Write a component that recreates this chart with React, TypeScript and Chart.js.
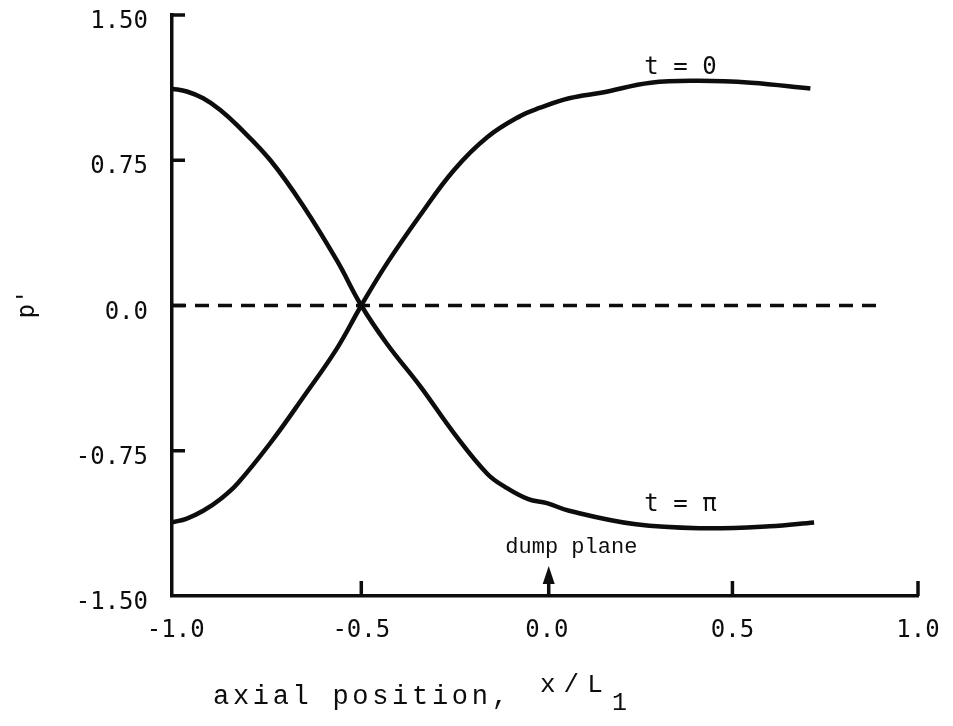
import { useEffect, useRef } from "react";
import { Chart, registerables } from "chart.js";

Chart.register(...registerables);

// Axis ticks
const xTickValues = [-1.0, -0.5, 0.0, 0.5, 1.0];
const xTickLabels = ["-1.0", "-0.5", "0.0", "0.5", "1.0"];
const yTickValues = [1.5, 0.75, 0.0, -0.75, -1.5];
const yTickLabels = ["1.50", "0.75", "0.0", "-0.75", "-1.50"];
// inward tick marks drawn on the axes
const xTickMarks = [-0.5, 0.5, 1.0];
const yTickMarks = [1.5, 0.75, 0.0, -0.75];

// Pressure perturbation p' along the duct, t = 0
const t0X = [-1.01, -0.97, -0.926, -0.88, -0.834, -0.745, -0.655, -0.565, -0.5, -0.43, -0.34, -0.25, -0.16, -0.07, -0.02, 0.06, 0.15, 0.28, 0.41, 0.55, 0.71];
const t0Y = [-1.12, -1.1, -1.06, -1.0, -0.92, -0.71, -0.47, -0.22, 0.0, 0.22, 0.47, 0.7, 0.87, 0.98, 1.02, 1.07, 1.1, 1.15, 1.16, 1.15, 1.12];

// Pressure perturbation p' along the duct, t = π
const tPiX = [-1.01, -0.97, -0.926, -0.88, -0.834, -0.745, -0.655, -0.565, -0.5, -0.43, -0.34, -0.25, -0.16, -0.11, -0.05, 0.0, 0.06, 0.24, 0.42, 0.6, 0.72];
const tPiY = [1.12, 1.105, 1.07, 1.01, 0.93, 0.75, 0.51, 0.23, 0.0, -0.2, -0.42, -0.66, -0.87, -0.94, -1.0, -1.02, -1.06, -1.13, -1.15, -1.14, -1.12];

// Zero reference line
const baseX = [-1.01, 0.9];
const baseY = [0.0, 0.0];

// Dump plane location
const dumpPlaneX = 0.005;

const INK = "#0d0d0d";
const TICK_FONT = '24px "DejaVu Sans Mono", monospace';

const toPoints = (xs: number[], ys: number[]) => xs.map((x, i) => ({ x, y: ys[i] }));

const decorations = {
  id: "decorations",
  afterDatasetsDraw(chart: any) {
    const { ctx, scales } = chart;
    const xs = scales.x;
    const ys = scales.y;
    const left = xs.left;
    const bottom = ys.bottom;
    ctx.save();
    ctx.strokeStyle = INK;
    ctx.fillStyle = INK;
    ctx.lineWidth = 3.5;
    ctx.lineCap = "butt";

    // inward tick marks
    yTickMarks.forEach((v) => {
      const py = ys.getPixelForValue(v);
      ctx.beginPath();
      ctx.moveTo(left, py);
      ctx.lineTo(left + 13, py);
      ctx.stroke();
    });
    xTickMarks.forEach((v) => {
      const px = xs.getPixelForValue(v);
      ctx.beginPath();
      ctx.moveTo(px, bottom);
      ctx.lineTo(px, bottom - 15);
      ctx.stroke();
    });

    // dump plane arrow
    const ax = xs.getPixelForValue(dumpPlaneX);
    const tipY = ys.getPixelForValue(-1.345);
    ctx.lineWidth = 3.5;
    ctx.beginPath();
    ctx.moveTo(ax, bottom);
    ctx.lineTo(ax, tipY + 14);
    ctx.stroke();
    ctx.beginPath();
    ctx.moveTo(ax, tipY);
    ctx.lineTo(ax - 6, tipY + 18);
    ctx.lineTo(ax + 6, tipY + 18);
    ctx.closePath();
    ctx.fill();

    // curve labels
    ctx.font = TICK_FONT;
    ctx.textAlign = "center";
    ctx.textBaseline = "middle";
    ctx.fillText("t = 0", xs.getPixelForValue(0.36), ys.getPixelForValue(1.23));
    ctx.fillText("t = π", xs.getPixelForValue(0.36), ys.getPixelForValue(-1.03));

    ctx.font = '22px "Liberation Mono", monospace';
    ctx.fillText("dump plane", xs.getPixelForValue(0.066), ys.getPixelForValue(-1.25));

    // x axis title with subscript
    ctx.textAlign = "left";
    ctx.textBaseline = "alphabetic";
    ctx.font = '27px "Liberation Mono", monospace';
    (ctx as any).letterSpacing = "3.7px";
    ctx.fillText("axial position,", 213, 704);
    ctx.font = '26px "Liberation Mono", monospace';
    (ctx as any).letterSpacing = "8px";
    ctx.fillText("x/L", 540, 692);
    (ctx as any).letterSpacing = "0px";
    ctx.font = '25px "Liberation Mono", monospace';
    ctx.fillText("1", 612, 710);

    // y axis title
    ctx.translate(28, 304);
    ctx.rotate(-Math.PI / 2);
    ctx.textAlign = "center";
    ctx.textBaseline = "middle";
    ctx.font = TICK_FONT;
    ctx.fillText("p'", 0, 0);
    ctx.restore();
  },
};

export default function App() {
  const canvasRef = useRef<HTMLCanvasElement | null>(null);

  useEffect(() => {
    const canvas = canvasRef.current;
    if (!canvas) return;
    const chart = new Chart(canvas, {
      type: "scatter",
      data: {
        datasets: [
          {
            label: "t = 0",
            data: toPoints(t0X, t0Y),
            showLine: true,
            borderColor: INK,
            borderWidth: 4.5,
            pointRadius: 0,
            tension: 0.4,
          },
          {
            label: "t = π",
            data: toPoints(tPiX, tPiY),
            showLine: true,
            borderColor: INK,
            borderWidth: 4.5,
            pointRadius: 0,
            tension: 0.4,
          },
          {
            label: "p' = 0",
            data: toPoints(baseX, baseY),
            showLine: true,
            borderColor: INK,
            borderWidth: 3.5,
            borderDash: [14, 9],
            pointRadius: 0,
          },
        ],
      },
      options: {
        animation: false,
        responsive: true,
        maintainAspectRatio: false,
        layout: { padding: { top: 15, right: 35, bottom: 0, left: 0 } },
        plugins: {
          legend: { display: false },
          tooltip: { enabled: false },
        },
        scales: {
          x: {
            type: "linear",
            min: -1.01,
            max: 1.0,
            grid: { display: false, drawTicks: false },
            border: { display: true, color: INK, width: 3.5 },
            afterBuildTicks: (s: any) => {
              s.ticks = xTickValues.map((v) => ({ value: v }));
            },
            afterFit: (s: any) => {
              s.height = 130;
              s.paddingLeft = 0;
              s.paddingRight = 0;
            },
            ticks: {
              color: INK,
              padding: 20,
              maxRotation: 0,
              autoSkip: false,
              font: { family: '"DejaVu Sans Mono", monospace', size: 24 },
              callback: (_v: any, i: number) => xTickLabels[i],
            },
          },
          y: {
            type: "linear",
            min: -1.5,
            max: 1.5,
            grid: { display: false, drawTicks: false },
            border: { display: true, color: INK, width: 3.5 },
            afterBuildTicks: (s: any) => {
              s.ticks = yTickValues.map((v) => ({ value: v }));
            },
            afterFit: (s: any) => {
              s.width = 172;
              s.paddingTop = 0;
              s.paddingBottom = 0;
            },
            ticks: {
              color: INK,
              padding: 24,
              labelOffset: 7,
              autoSkip: false,
              font: { family: '"DejaVu Sans Mono", monospace', size: 24 },
              callback: (_v: any, i: number) => yTickLabels[i],
            },
          },
        },
      },
      plugins: [decorations],
    });
    return () => chart.destroy();
  }, []);

  return (
    <div style={{ position: "fixed", left: 0, top: 0, width: 953, height: 726, background: "#fff" }}>
      <canvas ref={canvasRef} />
    </div>
  );
}
